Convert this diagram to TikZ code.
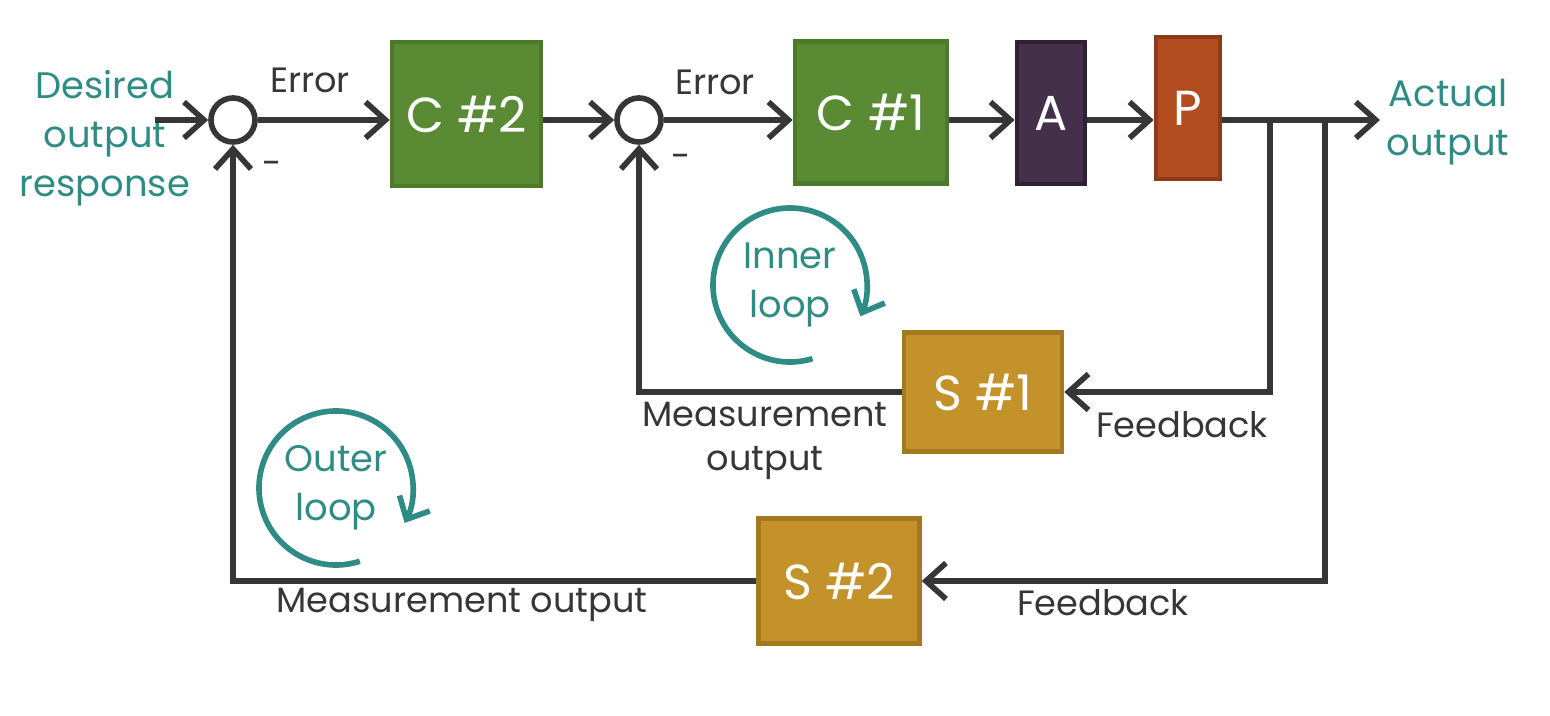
\documentclass[tikz,border=0pt]{standalone}
\usepackage{fontspec}
\setmainfont{Poppins}
\usepackage{tikz}
\usetikzlibrary{positioning,calc,arrows.meta}
\definecolor{ink}{HTML}{363636}
\definecolor{tealc}{HTML}{2F8C84}
\definecolor{grn}{HTML}{5A8A34}
\definecolor{grnd}{HTML}{4A7A2A}
\definecolor{prp}{HTML}{45304B}
\definecolor{prpd}{HTML}{2E2135}
\definecolor{org}{HTML}{B24B1E}
\definecolor{orgd}{HTML}{8E3A16}
\definecolor{gld}{HTML}{C4922A}
\definecolor{gldd}{HTML}{A47820}

\begin{document}
\begin{tikzpicture}[
	wire/.style={draw=ink, line width=1.6pt},
	arr/.style={wire, -{Straight Barb[length=2mm,width=3.6mm]}},
	loopar/.style={draw=tealc, line width=1.6pt, -{Straight Barb[length=1.8mm,width=3.4mm]}},
	junc/.style={circle, draw=ink, line width=1.6pt, fill=white, minimum size=4.4mm, inner sep=0pt},
	blk/.style={draw, line width=1.3pt, text=white, font=\fontsize{14}{16}\selectfont},
	lab/.style={text=ink, font=\fontsize{10}{12.5}\selectfont, align=center},
	note/.style={text=tealc, font=\fontsize{10.5}{14}\selectfont, align=center}
]
	\useasboundingbox (0,0) rectangle (15.5,-7.16);

	\node[junc] (s1) at (2.33,-1.20) {};
	\node[junc] (s2) at (6.39,-1.20) {};
	\coordinate (in) at (1.55,-1.20);

	\node[blk, fill=grn, draw=grnd, minimum width=14.9mm, minimum height=14.4mm] (c2) at (4.665,-1.14) {C \#2};
	\node[blk, fill=grn, draw=grnd, minimum width=15.2mm, minimum height=14.2mm] (c1) at (8.71,-1.125) {C \#1};
	\node[blk, fill=prp, draw=prpd, minimum width=6.8mm, minimum height=14.2mm] (a) at (10.51,-1.13) {A};
	\node[blk, fill=org, draw=orgd, minimum width=6.4mm, minimum height=14.2mm] (p) at (11.88,-1.08) {P};

	\coordinate (b1) at (12.70,-1.20);
	\coordinate (b2) at (13.25,-1.20);
	\coordinate (out) at (13.80,-1.20);

	\node[blk, fill=gld, draw=gldd, minimum width=15.8mm, minimum height=11.9mm] (m1) at (9.83,-3.92) {S \#1};
	\node[blk, fill=gld, draw=gldd, minimum width=16.1mm, minimum height=12.5mm] (m2) at (8.39,-5.81) {S \#2};

	\node[note] (des) at (1.05,-1.38) {Desired\\output\\response};
	\node[note] (act) at (14.48,-1.22) {Actual\\output};

	\node[lab] (e1) at (3.10,-0.80) {Error};
	\node[lab] (e2) at (7.15,-0.82) {Error};
	\node[lab] (n1) at (2.72,-1.68) {-};
	\node[lab] (n2) at (6.81,-1.61) {-};
	\node[lab] (mo1) at (7.65,-4.41) {Measurement\\output};
	\node[lab] (fb1) at (11.82,-4.25) {Feedback};
	\node[lab] (mo2) at (4.62,-6.05) {Measurement output};
	\node[lab] (fb2) at (11.03,-6.03) {Feedback};

	\draw[arr] (in) -- (s1);
	\draw[arr] (s1) -- (c2.west |- s1);
	\draw[arr] (c2.east |- s2) -- (s2);
	\draw[arr] (s2) -- (c1.west |- s2);
	\draw[arr] (c1.east |- s2) -- (a.west |- s2);
	\draw[arr] (a.east |- s2) -- (p.west |- s2);
	\draw[arr] (p.east |- s2) -- (out);

	\draw[arr] (b1) |- (m1);
	\draw[arr] (m1) -| (s2);
	\draw[arr] (b2) |- (m2);
	\draw[arr] (m2) -| (s1);

	\node[note] (il) at (7.90,-2.85) {Inner\\loop};
	\draw[loopar] ($(il)+(287:0.77)$) arc[start angle=287, end angle=-24, radius=0.77];
	\node[note] (ol) at (3.36,-4.88) {Outer\\loop};
	\draw[loopar] ($(ol)+(288:0.77)$) arc[start angle=288, end angle=-27, radius=0.77];
\end{tikzpicture}
\end{document}
